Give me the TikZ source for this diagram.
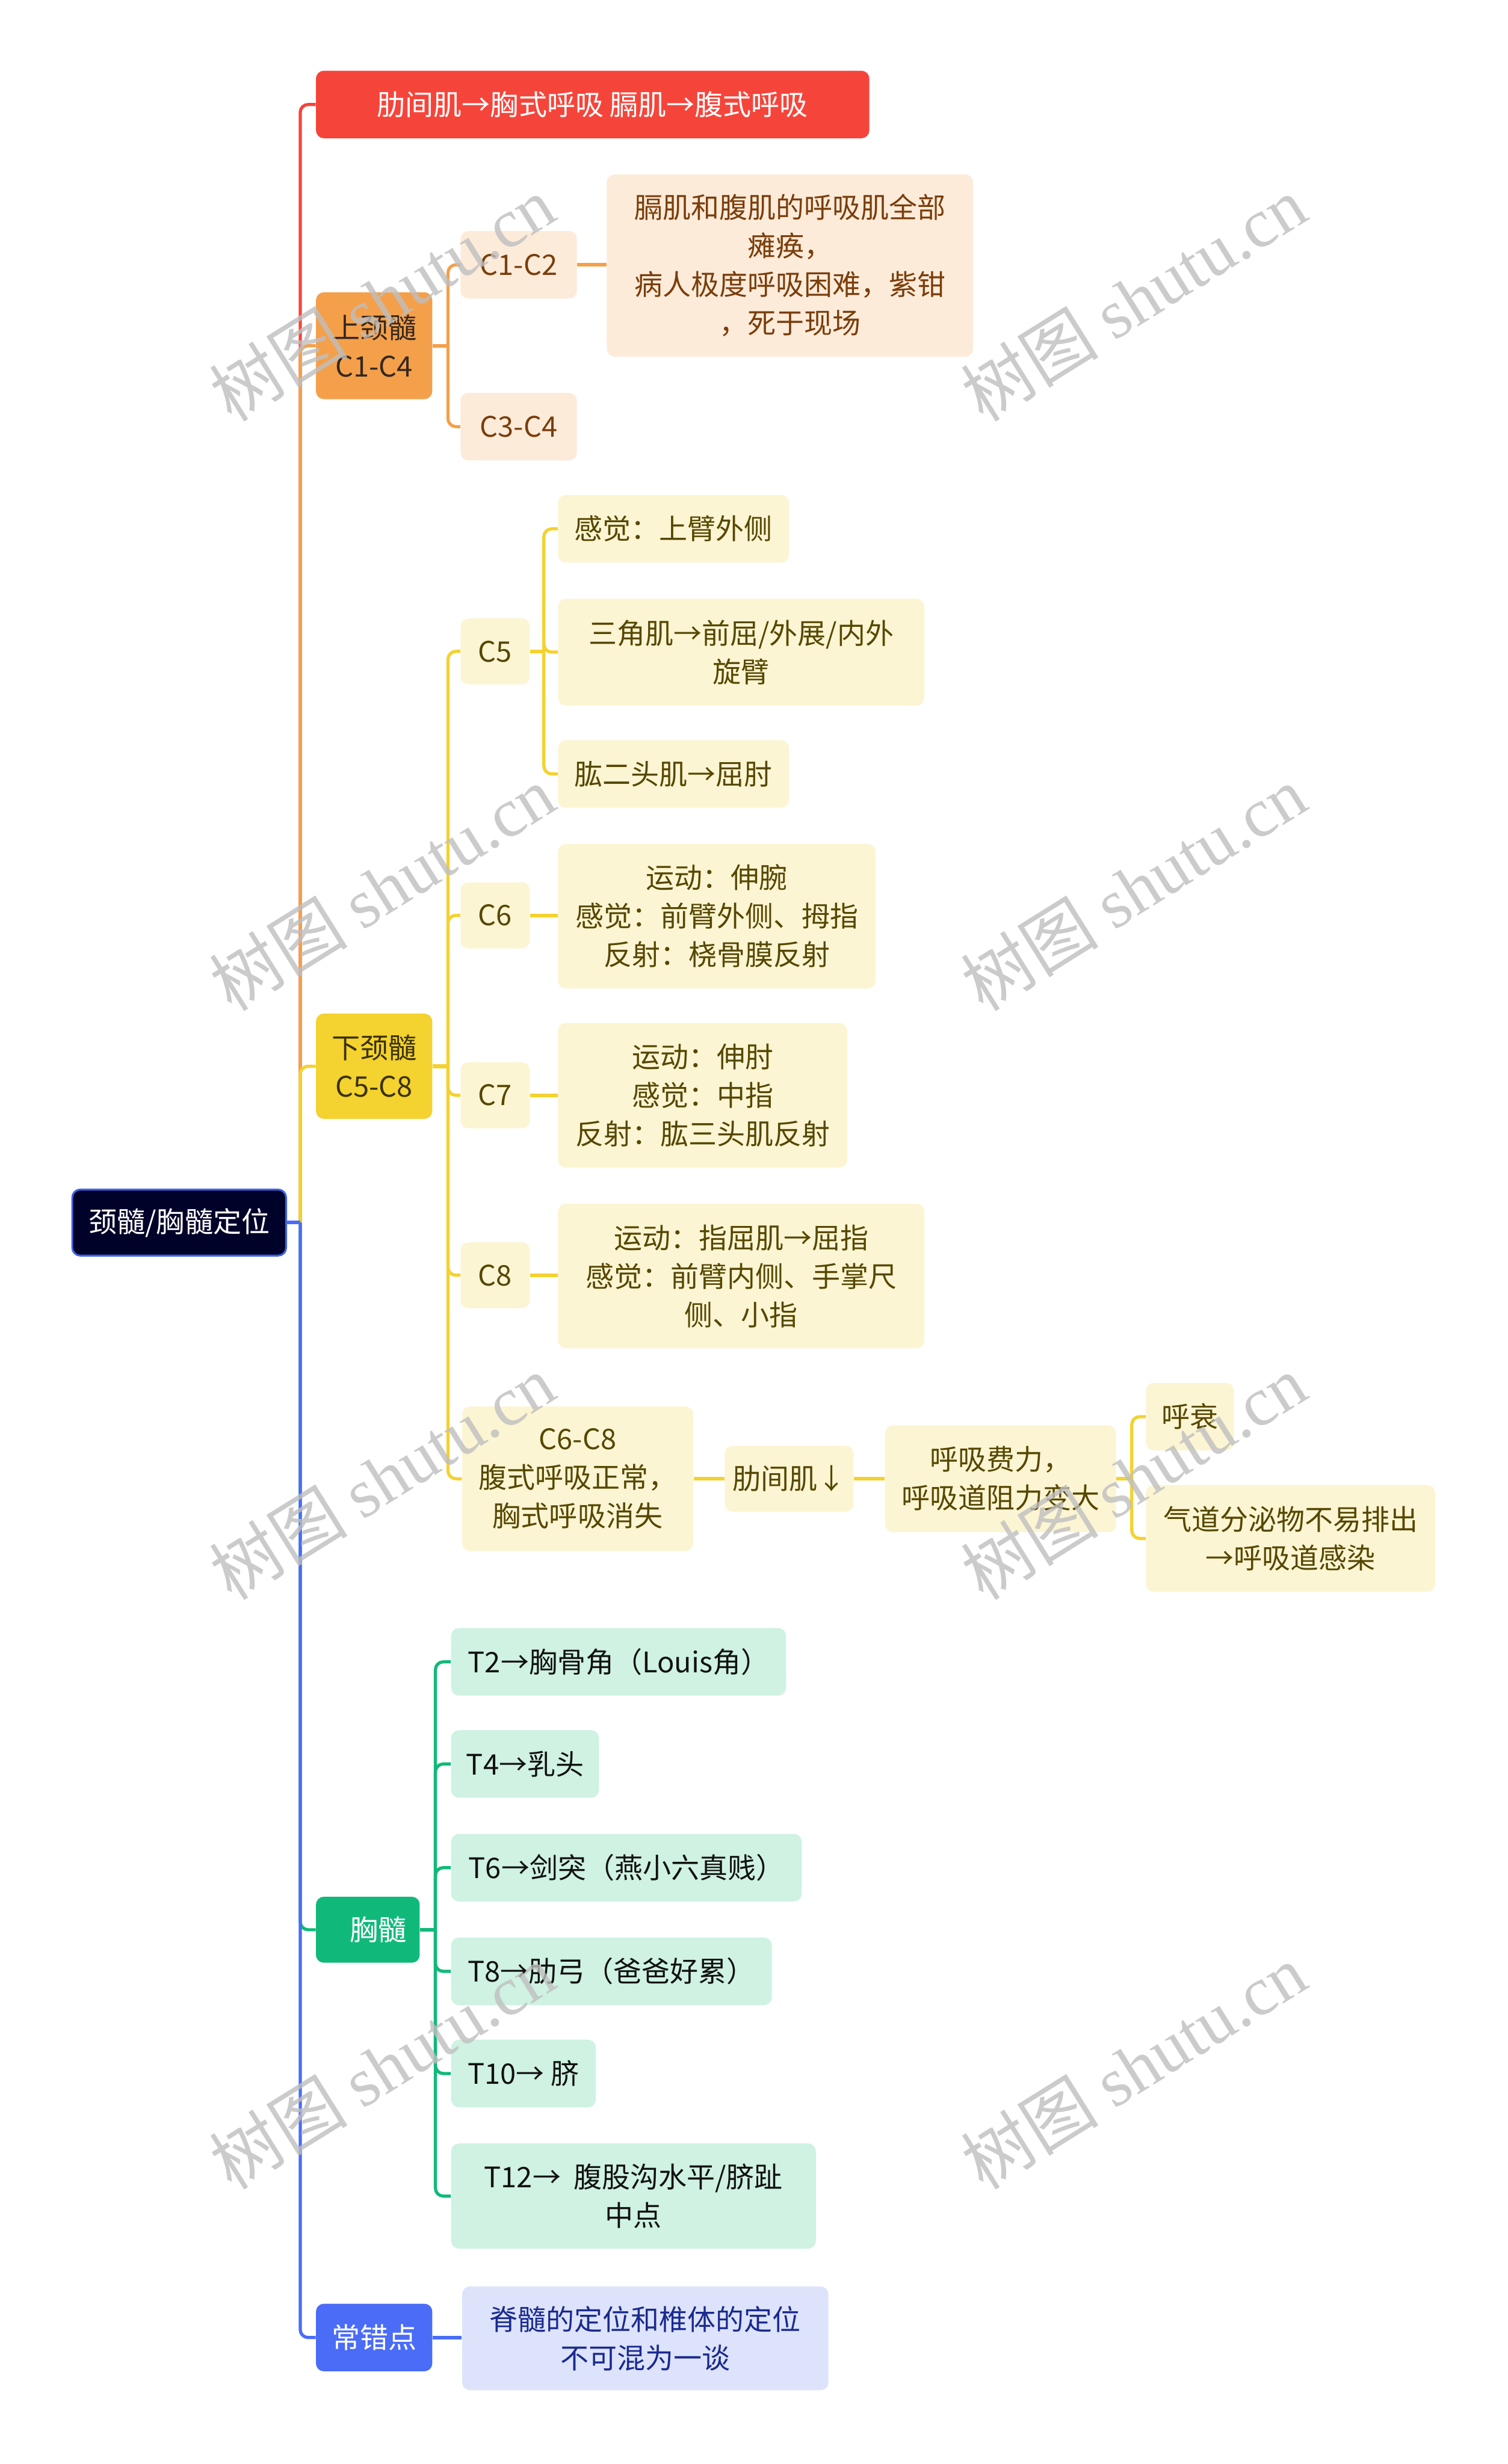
\documentclass[tikz,border=0pt]{standalone}
\usepackage{fontspec}
\usetikzlibrary{backgrounds}
\setmainfont{Noto Sans CJK SC}
\newfontfamily\wmserif{Liberation Serif}
\newfontfamily\wmcjk{Noto Sans CJK SC}
\definecolor{cRed}{HTML}{F5453B}
\definecolor{cOrg}{HTML}{F4A04B}
\definecolor{cOrgL}{HTML}{FDEBDA}
\definecolor{cOrgT}{HTML}{7A3E0B}
\definecolor{cOrgPT}{HTML}{35281C}
\definecolor{cYel}{HTML}{F4D22F}
\definecolor{cYelL}{HTML}{FCF5D3}
\definecolor{cYelT}{HTML}{564700}
\definecolor{cYelPT}{HTML}{3A3200}
\definecolor{cGrn}{HTML}{10B97A}
\definecolor{cGrnL}{HTML}{CFF2E2}
\definecolor{cGrnT}{HTML}{111111}
\definecolor{cBlu}{HTML}{4A6CF7}
\definecolor{cBluL}{HTML}{DCE3FB}
\definecolor{cBluT}{HTML}{1B2A8E}
\definecolor{cRoot}{HTML}{000229}
\definecolor{cRootB}{HTML}{3F62E6}
\tikzset{
 nbase/.style={rounded corners=5pt, inner sep=0pt, align=center, font=\fontsize{18}{24.5}\selectfont},
 rootbox/.style={nbase, fill=cRoot, draw=cRootB, line width=1.2pt, text=white},
 redbox/.style={nbase, fill=cRed, text=white},
 orgP/.style={nbase, fill=cOrg, text=cOrgPT},
 orgC/.style={nbase, fill=cOrgL, text=cOrgT},
 yelP/.style={nbase, fill=cYel, text=cYelPT},
 yelC/.style={nbase, fill=cYelL, text=cYelT},
 grnP/.style={nbase, fill=cGrn, text=white},
 grnC/.style={nbase, fill=cGrnL, text=cGrnT},
 bluP/.style={nbase, fill=cBlu, text=white},
 bluC/.style={nbase, fill=cBluL, text=cBluT},
 stub/.style={line width=2.4pt},
 branch/.style={line width=2pt, rounded corners=5pt},
 wm/.style={text=black!25, opacity=0.8, inner sep=0pt, rotate=32, font=\fontsize{44}{44}\selectfont},
}
\begin{document}
\begin{tikzpicture}[x=1pt,y=-1pt]
\useasboundingbox (0,0) rectangle (959,1568);

% ---------- nodes ----------
\node[rootbox, minimum width=136pt, minimum height=42pt] (root) at (114,778) {颈髓/胸髓定位};

\node[redbox, minimum width=352pt, minimum height=43pt] (red) at (377,66.5) {肋间肌→胸式呼吸 膈肌→腹式呼吸};

\node[orgP, minimum width=74pt, minimum height=68pt] (upper) at (238,220) {上颈髓\\C1-C4};
\node[orgC, minimum width=74pt, minimum height=43pt] (c12) at (330,168.5) {C1-C2};
\node[orgC, minimum width=233pt, minimum height=116pt] (c12d) at (502.5,169) {膈肌和腹肌的呼吸肌全部\\瘫痪，\\病人极度呼吸困难，紫钳\\，死于现场};
\node[orgC, minimum width=74pt, minimum height=43pt] (c34) at (330,271.5) {C3-C4};

\node[yelP, minimum width=74pt, minimum height=67pt] (lower) at (238,678.5) {下颈髓\\C5-C8};
\node[yelC, minimum width=44pt, minimum height=42pt] (c5) at (315,414.5) {C5};
\node[yelC, minimum width=147pt, minimum height=43pt] (c5a) at (428.5,336.5) {感觉：上臂外侧};
\node[yelC, minimum width=233pt, minimum height=68pt] (c5b) at (471.5,415) {三角肌→前屈/外展/内外\\旋臂};
\node[yelC, minimum width=147pt, minimum height=43pt] (c5c) at (428.5,492.5) {肱二头肌→屈肘};
\node[yelC, minimum width=44pt, minimum height=42pt] (c6) at (315,582.5) {C6};
\node[yelC, minimum width=202pt, minimum height=92pt] (c6a) at (456,583) {运动：伸腕\\感觉：前臂外侧、拇指\\反射：桡骨膜反射};
\node[yelC, minimum width=44pt, minimum height=42pt] (c7) at (315,697) {C7};
\node[yelC, minimum width=184pt, minimum height=92pt] (c7a) at (447,697) {运动：伸肘\\感觉：中指\\反射：肱三头肌反射};
\node[yelC, minimum width=44pt, minimum height=42pt] (c8) at (315,811.5) {C8};
\node[yelC, minimum width=233pt, minimum height=92pt] (c8a) at (471.5,812) {运动：指屈肌→屈指\\感觉：前臂内侧、手掌尺\\侧、小指};
\node[yelC, minimum width=147pt, minimum height=92pt] (c68) at (367.5,941) {C6-C8\\腹式呼吸正常，\\胸式呼吸消失};
\node[yelC, minimum width=82pt, minimum height=42pt] (lij) at (502,941) {肋间肌↓};
\node[yelC, minimum width=147pt, minimum height=68pt] (hxfl) at (636.5,941) {呼吸费力，\\呼吸道阻力变大};
\node[yelC, minimum width=56pt, minimum height=43pt] (hs) at (757,901.5) {呼衰};
\node[yelC, minimum width=184pt, minimum height=68pt] (qd) at (821,979) {气道分泌物不易排出\\→呼吸道感染};

\node[grnP, minimum width=66pt, minimum height=42pt] (thor) at (234,1228) {\hspace*{13pt}胸髓};
\node[grnC, minimum width=213pt, minimum height=43pt] (t2) at (393.5,1057.5) {T2→胸骨角（Louis角）};
\node[grnC, minimum width=94pt, minimum height=43pt] (t4) at (334,1122.5) {T4→乳头};
\node[grnC, minimum width=223pt, minimum height=43pt] (t6) at (398.5,1188.5) {T6→剑突（燕小六真贱）};
\node[grnC, minimum width=204pt, minimum height=43pt] (t8) at (389,1254.5) {T8→肋弓（爸爸好累）};
\node[grnC, minimum width=92pt, minimum height=43pt] (t10) at (333,1319.5) {T10→ 脐};
\node[grnC, minimum width=232pt, minimum height=67pt] (t12) at (403,1397.5) {T12→\ \ 腹股沟水平/脐趾\\中点};

\node[bluP, minimum width=74pt, minimum height=43pt] (err) at (238,1487.5) {常错点};
\node[bluC, minimum width=233pt, minimum height=66pt] (errd) at (410.5,1488) {脊髓的定位和椎体的定位\\不可混为一谈};

% ---------- bus coordinates ----------
\coordinate (busR) at (191,778);
\coordinate (busU) at (285,220);
\coordinate (busL) at (285,678.5);
\coordinate (busC5) at (346,414.5);
\coordinate (busH) at (720,941);
\coordinate (busT) at (277,1228);

% ---------- connectors (behind nodes) ----------
\begin{scope}[on background layer]
\fill[white] (0,0) rectangle (959,1568);
% root level
\foreach \ch/\col in {red/cRed, upper/cOrg, lower/cYel, thor/cGrn, err/cBlu}{
  \draw[stub, \col] (root.east) -- (root.east -| busR);
  \draw[branch, \col] (root.east -| busR) |- (\ch.west);
}
% upper cervical
\draw[stub, cOrg] (upper.east) -- (upper.east -| busU);
\foreach \ch in {c12, c34}{
  \draw[branch, cOrg] (upper.east -| busU) |- (\ch.west);
}
\draw[stub, cOrg] (c12.east) -- (c12.east -| c12d.west);
% lower cervical
\draw[stub, cYel] (lower.east) -- (lower.east -| busL);
\foreach \ch in {c5, c6, c7, c8, c68}{
  \draw[branch, cYel] (lower.east -| busL) |- (\ch.west);
}
\draw[stub, cYel] (c5.east) -- (c5.east -| busC5);
\foreach \ch in {c5a, c5b, c5c}{
  \draw[branch, cYel] (c5.east -| busC5) |- (\ch.west);
}
\draw[stub, cYel] (c6.east) -- (c6.east -| c6a.west);
\draw[stub, cYel] (c7.east) -- (c7.east -| c7a.west);
\draw[stub, cYel] (c8.east) -- (c8.east -| c8a.west);
\draw[stub, cYel] (c68.east) -- (c68.east -| lij.west);
\draw[stub, cYel] (lij.east) -- (lij.east -| hxfl.west);
\draw[stub, cYel] (hxfl.east) -- (hxfl.east -| busH);
\foreach \ch in {hs, qd}{
  \draw[branch, cYel] (hxfl.east -| busH) |- (\ch.west);
}
% thoracic
\draw[stub, cGrn] (thor.east) -- (thor.east -| busT);
\foreach \ch in {t2, t4, t6, t8, t10, t12}{
  \draw[branch, cGrn] (thor.east -| busT) |- (\ch.west);
}
% common errors
\draw[stub, cBlu] (err.east) -- (err.east -| errd.west);
\end{scope}

% ---------- watermarks ----------
\foreach \wx/\wy [count=\i] in {243/190, 721/190, 243/565, 721/565, 243/940, 721/940, 243/1315, 721/1315}{
  \node[wm] (wm\i) at (\wx,\wy) {{\wmcjk 树图} {\wmserif shutu.cn}};
}
\end{tikzpicture}
\end{document}
